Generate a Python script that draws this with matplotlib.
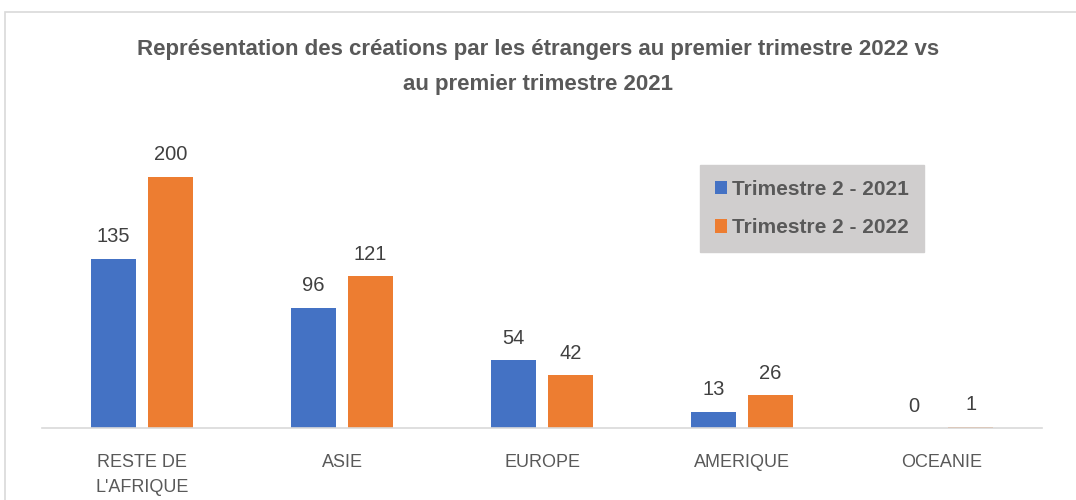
import numpy as np
import matplotlib.pyplot as plt
from matplotlib.patches import Rectangle

# data
categories = ["RESTE DE\nL'AFRIQUE", "ASIE", "EUROPE", "AMERIQUE", "OCEANIE"]
vals_2021 = [135, 96, 54, 13, 0]
vals_2022 = [200, 121, 42, 26, 1]
series_names = ["Trimestre 2 - 2021", "Trimestre 2 - 2022"]

blue = "#4472c4"
orange = "#ed7d31"
txt = "#595959"
plt.rcParams['font.family'] = ['Liberation Sans', 'DejaVu Sans']

fig = plt.figure(figsize=(10.76, 5), dpi=100)
# outer chart border
fig.patches.append(Rectangle((5 / 1076, -0.1), 1.2, 1 - 12 / 500 + 0.1, transform=fig.transFigure,
                             fill=False, edgecolor="#d9d9d9", linewidth=1.2))

ax = fig.add_axes([42 / 1076, 1 - 428 / 500, 1000 / 1076, 300 / 500])
x = np.arange(len(categories))
w = 0.225
off = 0.143
b1 = ax.bar(x - off, vals_2021, w, color=blue, label=series_names[0])
b2 = ax.bar(x + off, vals_2022, w, color=orange, label=series_names[1])

for bars in (b1, b2):
    for r in bars:
        ax.annotate(f"{int(r.get_height())}", (r.get_x() + r.get_width() / 2, r.get_height()),
                    xytext=(0, 9), textcoords="offset points", ha="center", va="bottom",
                    fontsize=14.5, color="#404040")

ax.set_xlim(-0.5, len(categories) - 0.5)
ax.set_ylim(0, 300 / 1.255)
ax.set_yticks([])
ax.set_xticks(x)
ax.set_xticklabels(categories, fontsize=13, color=txt, linespacing=1.55)
ax.tick_params(axis="x", length=0, pad=19)
for s in ["top", "right", "left"]:
    ax.spines[s].set_visible(False)
ax.spines["bottom"].set_color("#d9d9d9")
ax.spines["bottom"].set_linewidth(1.2)

leg = ax.legend(loc="upper left", bbox_to_anchor=(658 / 1000, (428 - 165) / 300), frameon=True,
                fancybox=False, facecolor="#d0cece", edgecolor="#d0cece", framealpha=1,
                prop={"weight": "bold", "size": 15}, handlelength=0.6, handleheight=0.6,
                handletextpad=0.25, labelspacing=0.95, borderpad=0.7, borderaxespad=0)
for t in leg.get_texts():
    t.set_color(txt)

fig.text(0.5, 1 - 67 / 500, "Représentation des créations par les étrangers au premier trimestre 2022 vs\nau premier trimestre 2021",
         ha="center", va="center", fontsize=16, fontweight="bold", color=txt, linespacing=1.9)

plt.savefig("out.png", dpi=100)
